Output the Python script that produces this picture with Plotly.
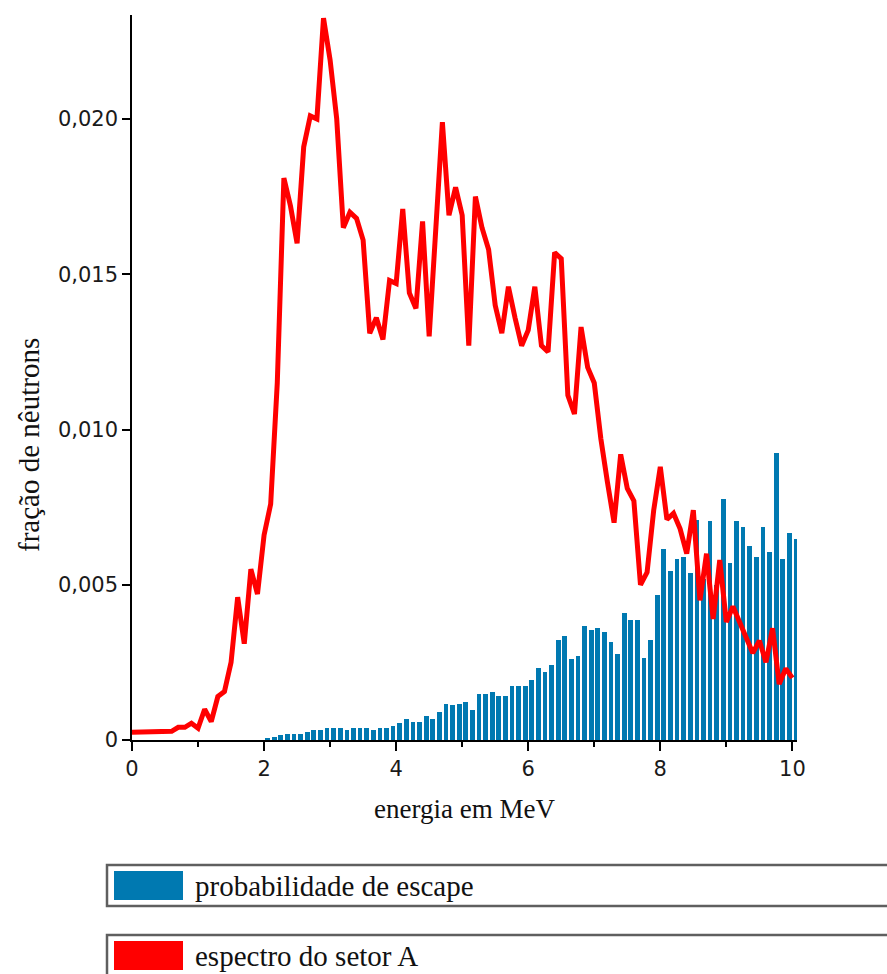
import plotly.graph_objects as go

# ---------------- data ----------------
energy_line = [0.0, 0.1, 0.2, 0.3, 0.4, 0.5, 0.6, 0.7, 0.8, 0.9,
               1.0, 1.1, 1.2, 1.3, 1.4, 1.5, 1.6, 1.7, 1.8, 1.9,
               2.0, 2.1, 2.2, 2.3, 2.4, 2.5, 2.6, 2.7, 2.8, 2.9,
               3.0, 3.1, 3.2, 3.3, 3.4, 3.5, 3.6, 3.7, 3.8, 3.9,
               4.0, 4.1, 4.2, 4.3, 4.4, 4.5, 4.6, 4.7, 4.8, 4.9,
               5.0, 5.1, 5.2, 5.3, 5.4, 5.5, 5.6, 5.7, 5.8, 5.9,
               6.0, 6.1, 6.2, 6.3, 6.4, 6.5, 6.6, 6.7, 6.8, 6.9,
               7.0, 7.1, 7.2, 7.3, 7.4, 7.5, 7.6, 7.7, 7.8, 7.9,
               8.0, 8.1, 8.2, 8.3, 8.4, 8.5, 8.6, 8.7, 8.8, 8.9,
               9.0, 9.1, 9.2, 9.3, 9.4, 9.5, 9.6, 9.7, 9.8, 9.9,
               10.0]

espectro_setor_A = [0.00025, 0.00025, 0.00025, 0.00025, 0.00025, 0.00025, 0.00028, 0.00041, 0.00041, 0.00054,
                    0.00038, 0.00099, 0.00059, 0.00140, 0.00156, 0.00250, 0.00460, 0.00310, 0.00550, 0.00470,
                    0.00660, 0.00760, 0.01150, 0.01810, 0.01720, 0.01600, 0.01910, 0.02010, 0.02000, 0.02325,
                    0.02190, 0.02000, 0.01650, 0.01700, 0.01680, 0.01610, 0.01310, 0.01360, 0.01290, 0.01480,
                    0.01470, 0.01710, 0.01440, 0.01390, 0.01670, 0.01300, 0.01650, 0.01990, 0.01690, 0.01780,
                    0.01690, 0.01270, 0.01750, 0.01650, 0.01580, 0.01400, 0.01310, 0.01460, 0.01360, 0.01270,
                    0.01320, 0.01460, 0.01270, 0.01250, 0.01570, 0.01550, 0.01110, 0.01050, 0.01330, 0.01200,
                    0.01150, 0.00970, 0.00830, 0.00700, 0.00920, 0.00810, 0.00770, 0.00500, 0.00540, 0.00740,
                    0.00880, 0.00710, 0.00730, 0.00680, 0.00600, 0.00740, 0.00450, 0.00600, 0.00390, 0.00580,
                    0.00380, 0.00430, 0.00380, 0.00330, 0.00280, 0.00320, 0.00250, 0.00360, 0.00180, 0.00230,
                    0.00200]

energy_bars = [2.0, 2.1, 2.2, 2.3, 2.4, 2.5, 2.6, 2.7, 2.8, 2.9,
               3.0, 3.1, 3.2, 3.3, 3.4, 3.5, 3.6, 3.7, 3.8, 3.9,
               4.0, 4.1, 4.2, 4.3, 4.4, 4.5, 4.6, 4.7, 4.8, 4.9,
               5.0, 5.1, 5.2, 5.3, 5.4, 5.5, 5.6, 5.7, 5.8, 5.9,
               6.0, 6.1, 6.2, 6.3, 6.4, 6.5, 6.6, 6.7, 6.8, 6.9,
               7.0, 7.1, 7.2, 7.3, 7.4, 7.5, 7.6, 7.7, 7.8, 7.9,
               8.0, 8.1, 8.2, 8.3, 8.4, 8.5, 8.6, 8.7, 8.8, 8.9,
               9.0, 9.1, 9.2, 9.3, 9.4, 9.5, 9.6, 9.7, 9.8, 9.9,
               10.0]

prob_escape = [0.00008, 0.00010, 0.00015, 0.00020, 0.00020, 0.00020, 0.00027, 0.00033, 0.00033, 0.00040,
               0.00040, 0.00040, 0.00033, 0.00040, 0.00040, 0.00040, 0.00033, 0.00040, 0.00040, 0.00046,
               0.00054, 0.00067, 0.00059, 0.00059, 0.00078, 0.00067, 0.00091, 0.00117, 0.00112, 0.00117,
               0.00123, 0.00097, 0.00148, 0.00148, 0.00156, 0.00142, 0.00142, 0.00174, 0.00174, 0.00174,
               0.00193, 0.00233, 0.00219, 0.00240, 0.00322, 0.00335, 0.00260, 0.00272, 0.00367, 0.00354,
               0.00362, 0.00349, 0.00317, 0.00278, 0.00408, 0.00388, 0.00388, 0.00265, 0.00323, 0.00466,
               0.00614, 0.00543, 0.00582, 0.00588, 0.00537, 0.00710, 0.00520, 0.00704, 0.00500, 0.00775,
               0.00569, 0.00704, 0.00685, 0.00626, 0.00588, 0.00685, 0.00606, 0.00923, 0.00582, 0.00666,
               0.00646]

y_tickvals = [0, 0.005, 0.010, 0.015, 0.020]
y_ticktext = ["0", "0,005", "0,010", "0,015", "0,020"]
x_tickvals = [0, 2, 4, 6, 8, 10]
x_ticktext = ["0", "2", "4", "6", "8", "10"]

legend_labels = ["probabilidade de escape", "espectro do setor A"]
BLUE = "#0079b1"
RED = "#ff0000"

# ---------------- geometry helpers (pixel -> paper) ----------------
W, H = 887, 974
L, R, T, B = 132, 797, 15, 740
XMAX, YMAX = 10.07, 0.02335


def px(x):
    return (x - L) / (R - L)


def py(y):
    return (B - y) / (B - T)


fig = go.Figure()

fig.add_trace(go.Bar(
    x=energy_bars, y=prob_escape, name=legend_labels[0],
    marker=dict(color=BLUE, line=dict(width=0)),
    width=0.072, offset=0.018, showlegend=False,
))

fig.add_trace(go.Scatter(
    x=energy_line, y=espectro_setor_A, name=legend_labels[1], mode="lines",
    line=dict(color=RED, width=5), showlegend=False,
))

fig.update_layout(
    width=W, height=H,
    margin=dict(l=L, r=W - R, t=T, b=H - B, pad=0),
    paper_bgcolor="white", plot_bgcolor="white",
    showlegend=False,
    bargap=0,
)

tick_font = dict(family="DejaVu Sans", size=21, color="#1a1a1a")

fig.update_xaxes(
    range=[0, XMAX], showgrid=False, zeroline=False,
    showline=True, linecolor="black", linewidth=1.6,
    ticks="outside", ticklen=9, tickwidth=1.5, tickcolor="black",
    tickvals=x_tickvals, ticktext=x_ticktext, tickfont=tick_font,
    minor=dict(tickvals=[1, 3, 5, 7, 9], ticks="outside", ticklen=5,
               tickwidth=1.5, tickcolor="black", showgrid=False),
)
fig.update_yaxes(
    range=[0, YMAX], showgrid=False, zeroline=False,
    showline=True, linecolor="black", linewidth=1.6,
    ticks="outside", ticklen=8, tickwidth=1.5, tickcolor="black",
    tickvals=y_tickvals, ticktext=y_ticktext, tickfont=tick_font,
)

title_font = dict(family="Liberation Serif", size=27, color="#111111")

fig.add_annotation(text="energia em MeV", xref="paper", yref="paper",
                   x=px(464), y=py(809), xanchor="center", yanchor="middle",
                   showarrow=False, font=title_font)
fig.add_annotation(text="fração de nêutrons", xref="paper", yref="paper",
                   x=px(29), y=py(445), xanchor="center", yanchor="middle",
                   textangle=-90, showarrow=False,
                   font=dict(family="Liberation Serif", size=29, color="#111111"))

# legend boxes drawn as shapes + text
boxes = [(865, 906, BLUE), (935, 976, RED)]
for (top, bot, col), label in zip(boxes, legend_labels):
    fig.add_shape(type="rect", xref="paper", yref="paper",
                  x0=px(107), x1=px(892), y0=py(bot), y1=py(top),
                  line=dict(color="#5f5f5f", width=2.5), fillcolor="white", layer="above")
    fig.add_shape(type="rect", xref="paper", yref="paper",
                  x0=px(114), x1=px(183), y0=py(bot - 6), y1=py(top + 6),
                  line=dict(width=0), fillcolor=col, layer="above")
    fig.add_annotation(text=label, xref="paper", yref="paper",
                       x=px(193), y=py((top + bot) / 2), xanchor="left", yanchor="middle",
                       showarrow=False, font=dict(family="Liberation Serif", size=29, color="#111111"))

fig.write_html("out.html")
